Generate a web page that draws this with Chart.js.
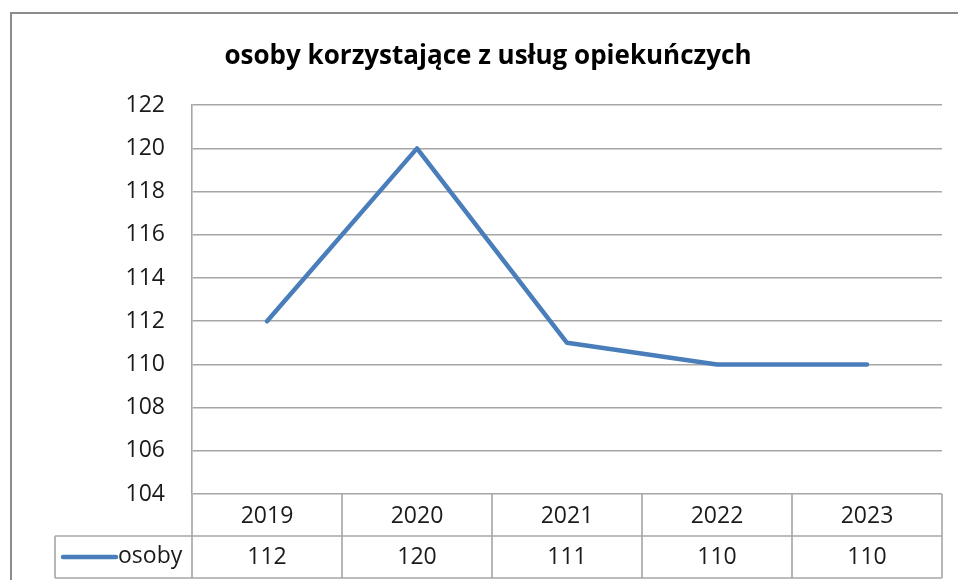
<!DOCTYPE html>
<html lang="pl">
<head>
<meta charset="utf-8">
<title>osoby korzystające z usług opiekuńczych</title>
<script src="https://cdn.jsdelivr.net/npm/chart.js@4/dist/chart.umd.min.js"></script>
<style>
  html, body { margin: 0; padding: 0; background: #fff; }
  #wrap { width: 958px; height: 580px; position: relative; }
</style>
</head>
<body>
<div id="wrap"><canvas id="chart" width="958" height="580"></canvas></div>
<script>
// dane z wykresu
const chartTitle = 'osoby korzystające z usług opiekuńczych';
const years = ['2019', '2020', '2021', '2022', '2023'];
const seriesName = 'osoby';
const osoby = [112, 120, 111, 110, 110];
const yMin = 104;
const yMax = 122;
const yStep = 2;

const lineColor = '#4A7EBB';
const gridColor = '#a6a6a6';
const textColor = '#1a1a1a';
const fontFamily = '"Open Sans", "Noto Sans", sans-serif';
const padLeft = 34;

// ramka wokół wykresu + tabela danych pod osią
const tablePlugin = {
  id: 'dataTable',
  afterDraw(chart) {
    const ctx = chart.ctx;
    const area = chart.chartArea;
    const xs = chart.scales.x;
    const rowH = 42;
    const top = area.bottom;
    const mid = top + rowH;
    const bottom = mid + rowH;
    const legendLeft = 55;
    const half = (xs.getPixelForValue(1) - xs.getPixelForValue(0)) / 2;

    ctx.save();
    // obramowanie całości
    ctx.strokeStyle = '#8c8c8c';
    ctx.lineWidth = 2;
    ctx.beginPath();
    ctx.moveTo(11, 580);
    ctx.lineTo(11, 13);
    ctx.lineTo(958, 13);
    ctx.stroke();

    // siatka tabeli
    ctx.strokeStyle = gridColor;
    ctx.lineWidth = 1.6;
    ctx.beginPath();
    for (let i = 0; i <= years.length; i++) {
      const x = i < years.length ? xs.getPixelForValue(i) - half : xs.getPixelForValue(years.length - 1) + half;
      ctx.moveTo(x, top);
      ctx.lineTo(x, bottom);
    }
    ctx.moveTo(legendLeft, mid);
    ctx.lineTo(area.right, mid);
    ctx.moveTo(legendLeft, bottom);
    ctx.lineTo(area.right, bottom);
    ctx.moveTo(legendLeft, mid);
    ctx.lineTo(legendLeft, bottom);
    ctx.stroke();

    // teksty
    ctx.fillStyle = textColor;
    ctx.font = '23px ' + fontFamily;
    ctx.textAlign = 'center';
    ctx.textBaseline = 'middle';
    years.forEach((y, i) => {
      const x = xs.getPixelForValue(i);
      ctx.fillText(y, x, top + rowH / 2 + 1);
      ctx.fillText(String(osoby[i]), x, mid + rowH / 2);
    });

    // klucz legendy
    const ky = mid + rowH / 2;
    ctx.strokeStyle = lineColor;
    ctx.lineWidth = 4.5;
    ctx.lineCap = 'round';
    ctx.beginPath();
    ctx.moveTo(63, ky);
    ctx.lineTo(116, ky);
    ctx.stroke();
    ctx.textAlign = 'left';
    ctx.fillText(seriesName, 118, ky - 1);
    ctx.restore();
  }
};

new Chart(document.getElementById('chart'), {
  type: 'line',
  data: {
    labels: years,
    datasets: [{
      label: seriesName,
      data: osoby,
      borderColor: lineColor,
      backgroundColor: lineColor,
      borderWidth: 4.5,
      borderCapStyle: 'round',
      borderJoinStyle: 'round',
      pointRadius: 0,
      tension: 0
    }]
  },
  options: {
    responsive: false,
    animation: false,
    layout: { padding: { top: 12, right: 16, bottom: 86, left: padLeft } },
    plugins: {
      legend: { display: false },
      tooltip: { enabled: false },
      title: {
        display: true,
        text: chartTitle,
        color: '#000',
        font: { family: fontFamily, size: 26, weight: 'bold', lineHeight: 1.2 },
        padding: { top: 29, bottom: 33 }
      }
    },
    scales: {
      x: {
        display: false,
        offset: true
      },
      y: {
        min: yMin,
        max: yMax,
        afterFit(scale) { scale.width = 192 - padLeft; },
        border: { display: true, color: gridColor, width: 1.6 },
        grid: { color: gridColor, lineWidth: 1.6, drawTicks: false },
        ticks: {
          stepSize: yStep,
          padding: 27,
          color: textColor,
          font: { family: fontFamily, size: 23 }
        }
      }
    }
  },
  plugins: [tablePlugin]
});
</script>
</body>
</html>
